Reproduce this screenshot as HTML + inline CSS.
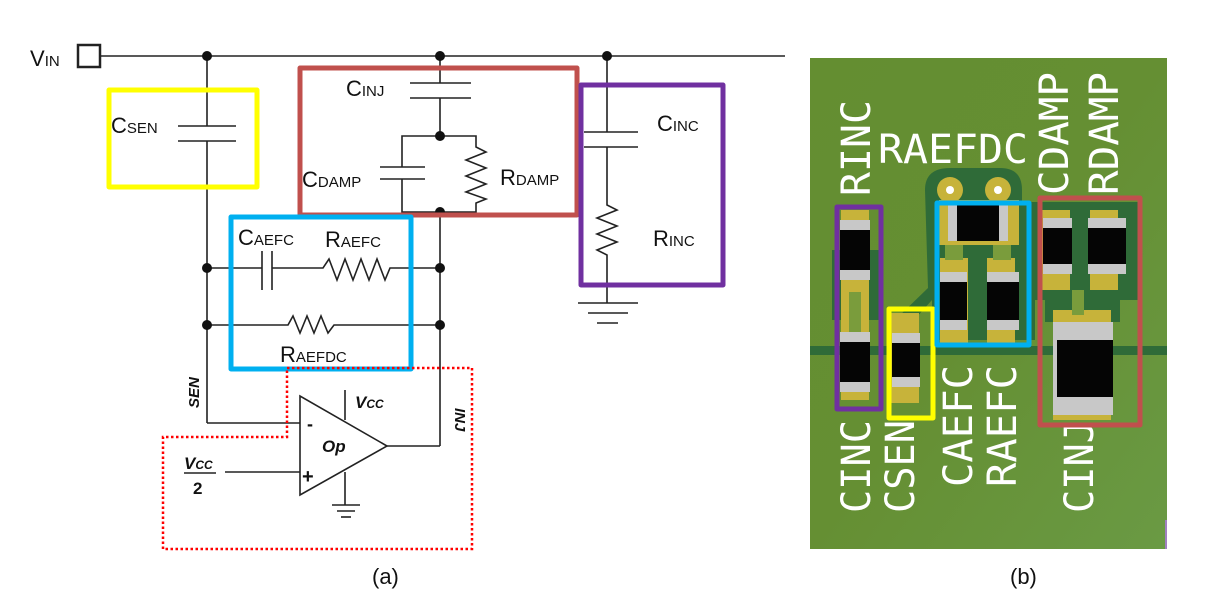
<!DOCTYPE html>
<html><head><meta charset="utf-8"><style>
html,body{margin:0;padding:0;background:#fff;width:1218px;height:595px;overflow:hidden}
svg{display:block}
.t{font-family:"Liberation Sans",sans-serif;fill:#111}
.s{font-family:"DejaVu Sans Mono","Liberation Mono",monospace;fill:#fff}
</style></head><body>
<svg width="1218" height="595" viewBox="0 0 1218 595" xmlns="http://www.w3.org/2000/svg">
<g stroke="#222" stroke-width="1.6" fill="none">
 <line x1="100" y1="56" x2="785" y2="56"/>
 <rect x="78" y="45" width="22" height="22" stroke-width="2.5"/>
 <line x1="207" y1="56" x2="207" y2="126"/>
 <line x1="207" y1="141" x2="207" y2="423"/>
 <line x1="178" y1="126" x2="236" y2="126"/>
 <line x1="178" y1="141" x2="236" y2="141"/>
 <line x1="207" y1="423" x2="300" y2="423"/>
 <line x1="440" y1="56" x2="440" y2="83"/>
 <line x1="410" y1="83" x2="471" y2="83"/>
 <line x1="410" y1="98" x2="471" y2="98"/>
 <line x1="440" y1="98" x2="440" y2="136"/>
 <polyline points="402,167 402,136 476,136 476,147 486,152 466,160 486,168 466,176 486,184 466,192 486,199 476,203 476,212 402,212 402,179"/>
 <line x1="380" y1="167" x2="425" y2="167"/>
 <line x1="380" y1="179" x2="425" y2="179"/>
 <line x1="440" y1="212" x2="440" y2="446"/>
 <line x1="387" y1="446" x2="440" y2="446"/>
 <polyline points="207,268 262,268"/>
 <line x1="262" y1="251" x2="262" y2="290"/>
 <line x1="272" y1="251" x2="272" y2="290"/>
 <polyline points="272,268 323,268 329,259 337,280 345,259 353,280 361,259 369,280 377,259 385,280 390,268 440,268"/>
 <polyline points="207,325 288,325 293,316 300,333 307,316 314,333 321,316 328,333 334,325 440,325"/>
 <line x1="607" y1="56" x2="607" y2="132"/>
 <line x1="584" y1="132" x2="638" y2="132"/>
 <line x1="584" y1="147" x2="638" y2="147"/>
 <polyline points="607,147 607,205 617,210 597,218 617,226 597,234 617,242 597,250 607,255 607,303"/>
 <line x1="578" y1="303" x2="638" y2="303"/>
 <line x1="588" y1="313" x2="628" y2="313"/>
 <line x1="597" y1="323" x2="618" y2="323"/>
 <polygon points="300,396 300,495 387,446"/>
 <line x1="225" y1="472" x2="300" y2="472"/>
 <line x1="345" y1="390" x2="345" y2="420"/>
 <line x1="345" y1="472" x2="345" y2="505"/>
 <line x1="332" y1="505" x2="360" y2="505"/>
 <line x1="337" y1="511" x2="355" y2="511"/>
 <line x1="341" y1="517" x2="351" y2="517"/>
 <line x1="184" y1="473" x2="216" y2="473"/>
</g>
<g fill="#111">
 <circle cx="207" cy="56" r="5"/><circle cx="440" cy="56" r="5"/><circle cx="607" cy="56" r="5"/>
 <circle cx="440" cy="136" r="5"/><circle cx="440" cy="212" r="5"/>
 <circle cx="207" cy="268" r="5"/><circle cx="440" cy="268" r="5"/>
 <circle cx="207" cy="325" r="5"/><circle cx="440" cy="325" r="5"/>
</g>
<g class="t" font-size="22">
 <text x="30" y="66">V<tspan font-size="15">IN</tspan></text>
 <text x="111" y="133">C<tspan font-size="15">SEN</tspan></text>
 <text x="346" y="96">C<tspan font-size="15">INJ</tspan></text>
 <text x="302" y="187">C<tspan font-size="15">DAMP</tspan></text>
 <text x="500" y="185">R<tspan font-size="15">DAMP</tspan></text>
 <text x="238" y="245">C<tspan font-size="15">AEFC</tspan></text>
 <text x="325" y="247">R<tspan font-size="15">AEFC</tspan></text>
 <text x="280" y="362">R<tspan font-size="15">AEFDC</tspan></text>
 <text x="657" y="131">C<tspan font-size="15">INC</tspan></text>
 <text x="653" y="246">R<tspan font-size="15">INC</tspan></text>
 <text x="372" y="584">(a)</text>
 <text x="1010" y="584">(b)</text>
</g>
<g class="t" font-weight="bold" font-style="italic">
 <text x="355" y="408" font-size="17">V<tspan font-size="12">CC</tspan></text>
 <text x="184" y="469" font-size="17">V<tspan font-size="12">CC</tspan></text>
 <text x="193" y="494" font-size="17" font-style="normal">2</text>
 <text x="322" y="452" font-size="17">Op</text>
 <text x="307" y="430" font-size="18" font-style="normal">-</text>
 <text x="302" y="483" font-size="20" font-style="normal">+</text>
 <text transform="translate(199,408) rotate(-90)" font-size="15">SEN</text>
 <text transform="translate(455,408) rotate(90)" font-size="15">INJ</text>
</g>
<g fill="none" stroke-width="5" stroke-linejoin="round">
 <rect x="109" y="90" width="148" height="97" stroke="#ffff00"/>
 <rect x="300" y="68" width="277" height="147" stroke="#c0504d"/>
 <rect x="581" y="85" width="142" height="200" stroke="#7030a0"/>
 <rect x="231" y="217" width="180" height="152" stroke="#00b0f0"/>
</g>
<polyline points="287,368 472,368 472,549 163,549 163,437 287,437 287,368" fill="none" stroke="#ff0000" stroke-width="2.5" stroke-dasharray="2.5 2.5"/>

<defs><linearGradient id="g" x1="0" y1="0" x2="1" y2="1"><stop offset="0" stop-color="#648e31"/><stop offset="0.5" stop-color="#658f33"/><stop offset="1" stop-color="#6a9a44"/></linearGradient></defs>
<rect x="810" y="58" width="357" height="491" fill="url(#g)"/>
<rect x="1165" y="520" width="2" height="29" fill="#a080c0"/>
<g fill="#2f6b38">
 <rect x="810" y="346" width="357" height="9"/>
 <path d="M925,190 Q925,168 950,168 L1000,168 Q1022,168 1022,190 L1022,202 L1140,202 L1140,300 L1120,300 L1120,322 L1045,322 L1045,300 L1035,300 L1035,340 L932,340 L932,300 L905,330 L895,320 L928,288 Z"/>
 <rect x="832" y="250" width="48" height="70"/>
</g>
<g fill="#c7b33a">
 <circle cx="950" cy="190" r="13"/><circle cx="998" cy="190" r="13"/>
 <rect x="841" y="210" width="28" height="190"/>
 <rect x="891" y="313" width="28" height="90"/>
 <rect x="939" y="200" width="80" height="45"/>
 <rect x="940" y="258" width="28" height="85"/>
 <rect x="987" y="258" width="28" height="85"/>
 <rect x="1042" y="210" width="28" height="80"/>
 <rect x="1090" y="210" width="28" height="80"/>
 <rect x="1053" y="310" width="58" height="110"/>
</g>
<g fill="#7a9c3c"><rect x="849" y="292" width="12" height="40"/><rect x="945" y="245" width="18" height="15"/><rect x="993" y="245" width="18" height="15"/><rect x="1072" y="290" width="12" height="25"/></g>
<g fill="#c8c8c8">
 <circle cx="950" cy="190" r="4" fill="#fff"/><circle cx="998" cy="190" r="4" fill="#fff"/>
 <rect x="840" y="220" width="30" height="60"/>
 <rect x="840" y="332" width="30" height="60"/>
 <rect x="892" y="333" width="28" height="54"/>
 <rect x="948" y="205" width="60" height="36"/>
 <rect x="940" y="272" width="27" height="58"/>
 <rect x="987" y="272" width="32" height="58"/>
 <rect x="1043" y="218" width="29" height="56"/>
 <rect x="1088" y="218" width="38" height="56"/>
 <rect x="1053" y="322" width="60" height="93"/>
</g>
<g fill="#050505">
 <rect x="840" y="230" width="30" height="40"/>
 <rect x="840" y="342" width="30" height="40"/>
 <rect x="892" y="343" width="28" height="34"/>
 <rect x="957" y="205" width="42" height="36"/>
 <rect x="940" y="282" width="27" height="38"/>
 <rect x="987" y="282" width="32" height="38"/>
 <rect x="1043" y="228" width="29" height="36"/>
 <rect x="1088" y="228" width="38" height="36"/>
 <rect x="1057" y="340" width="56" height="57"/>
</g>
<g class="s" font-size="40">
 <text x="878" y="163" textLength="150" lengthAdjust="spacingAndGlyphs">RAEFDC</text>
 <text transform="translate(870,196) rotate(-90)" textLength="96" lengthAdjust="spacingAndGlyphs">RINC</text>
 <text transform="translate(1068,195) rotate(-90)" textLength="123" lengthAdjust="spacingAndGlyphs">CDAMP</text>
 <text transform="translate(1118,195) rotate(-90)" textLength="123" lengthAdjust="spacingAndGlyphs">RDAMP</text>
 <text transform="translate(870,513) rotate(-90)" textLength="93" lengthAdjust="spacingAndGlyphs">CINC</text>
 <text transform="translate(914,513) rotate(-90)" textLength="93" lengthAdjust="spacingAndGlyphs">CSEN</text>
 <text transform="translate(972,487) rotate(-90)" textLength="122" lengthAdjust="spacingAndGlyphs">CAEFC</text>
 <text transform="translate(1016,487) rotate(-90)" textLength="122" lengthAdjust="spacingAndGlyphs">RAEFC</text>
 <text transform="translate(1093,513) rotate(-90)" textLength="93" lengthAdjust="spacingAndGlyphs">CINJ</text>
</g>
<g fill="none" stroke-width="5" stroke-linejoin="round">
 <rect x="837" y="207" width="44" height="202" stroke="#7030a0"/>
 <rect x="889" y="309" width="44" height="109" stroke="#ffff00"/>
 <rect x="937" y="203" width="92" height="142" stroke="#00b0f0"/>
 <rect x="1040" y="198" width="100" height="227" stroke="#c0504d"/>
</g>
</svg>
</body></html>
